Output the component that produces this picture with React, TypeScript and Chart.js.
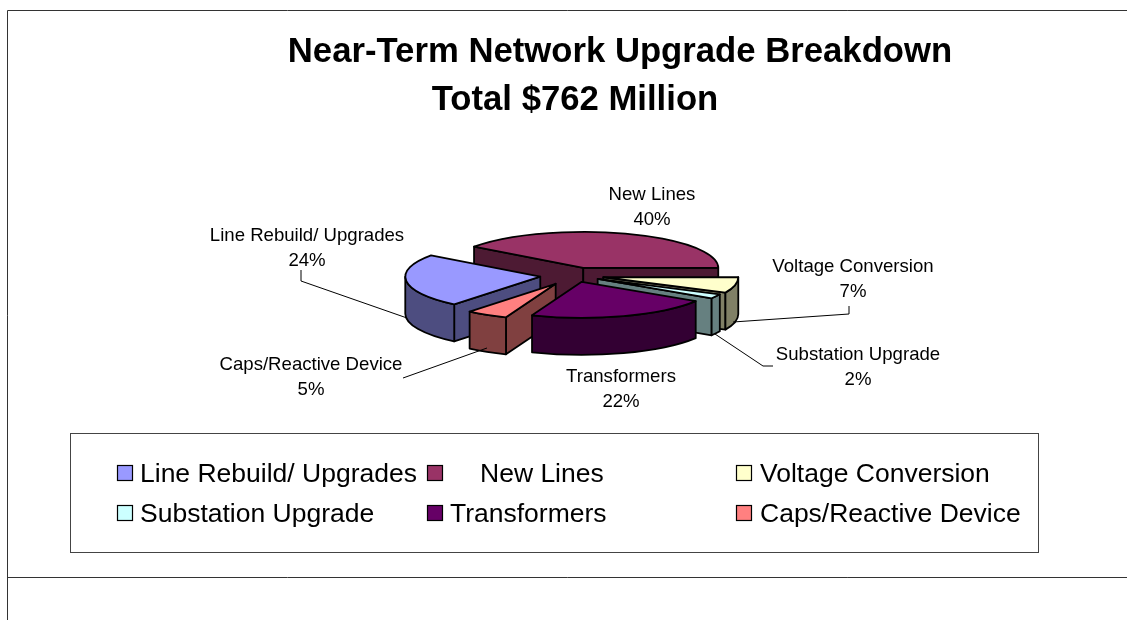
import React, { useEffect, useRef } from "react";
import { Chart, registerables } from "chart.js";

Chart.register(...registerables);

const titleLines = ["Near-Term Network Upgrade Breakdown", "Total $762 Million"];
const categories = ["Line Rebuild/ Upgrades", "New Lines", "Voltage Conversion", "Substation Upgrade", "Transformers", "Caps/Reactive Device"];
const shares = [24, 40, 7, 2, 22, 5];
const percentLabels = ["24%", "40%", "7%", "2%", "22%", "5%"];
const topColors = ["#9999FF", "#993366", "#FFFFCC", "#CCFFFF", "#660066", "#FF8080"];
const wallColors = ["#4D4D80", "#4D1A33", "#808066", "#668080", "#330033", "#804040"];
const explode = [34, 30, 30, 27, 25, 36];
const paintOrder = [1, 2, 3, 0, 5, 4];

const FONT = '"Liberation Sans", Arial, sans-serif';
const SQUASH = 0.267;
const DEPTH = 37;
const titleAnchors = [{ x: 620, y: 62 }, { x: 575, y: 110 }];
const labelAnchors = [{ x: 307, y: 241 }, { x: 652, y: 200 }, { x: 853, y: 272 }, { x: 858, y: 360 }, { x: 621, y: 382 }, { x: 311, y: 370 }];
const leaders = [
  [[301, 270], [301, 281], [407, 318]],
  [],
  [[849, 306], [849, 314], [733, 322]],
  [[773, 366], [763, 366], [715, 334]],
  [],
  [[403, 378], [487, 348]],
];
const legendSwatches = [{ x: 117, y: 465 }, { x: 427, y: 465 }, { x: 736, y: 465 }, { x: 117, y: 505 }, { x: 427, y: 505 }, { x: 736, y: 505 }];
const legendTextX = [140, 480, 760, 140, 450, 760];
const legendBaselines = [482, 482, 482, 522, 522, 522];

const piePlugin = {
  id: "tiltedPie",
  beforeDatasetsDraw(chart: any) {
    const ctx: CanvasRenderingContext2D = chart.ctx;
    const arcs = chart.getDatasetMeta(0).data;
    const cx = (chart.chartArea.left + chart.chartArea.right) / 2;
    const cy = (chart.chartArea.top + chart.chartArea.bottom) / 2;
    ctx.save();
    ctx.lineWidth = 1.8;
    ctx.lineJoin = "round";
    ctx.strokeStyle = "#000";

    for (const i of paintOrder) {
      const el = arcs[i];
      const a0 = el.startAngle;
      const a1 = el.endAngle;
      const r = el.outerRadius;
      const mid = (a0 + a1) / 2;
      const off = el.options.offset;
      const ax = cx + Math.cos(mid) * off;
      const ay = cy + Math.sin(mid) * off * SQUASH;
      const px = (a: number) => ax + Math.cos(a) * r;
      const py = (a: number) => ay + Math.sin(a) * r * SQUASH;
      const ellipse = (from: number, to: number, ccw: boolean, dy: number) => {
        ctx.ellipse(ax, ay + dy, r, r * SQUASH, 0, from, to, ccw);
      };
      const paint = (color: string) => {
        ctx.closePath();
        ctx.fillStyle = color;
        ctx.fill();
        ctx.stroke();
      };
      const quad = (a: number) => {
        ctx.beginPath();
        ctx.moveTo(ax, ay);
        ctx.lineTo(px(a), py(a));
        ctx.lineTo(px(a), py(a) + DEPTH);
        ctx.lineTo(ax, ay + DEPTH);
        paint(wallColors[i]);
      };
      if (px(a0) < ax) quad(a0);
      if (px(a1) > ax) quad(a1);
      for (let k = -1; k <= 1; k++) {
        const lo = Math.max(a0, k * 2 * Math.PI);
        const hi = Math.min(a1, k * 2 * Math.PI + Math.PI);
        if (hi > lo) {
          ctx.beginPath();
          ellipse(lo, hi, false, 0);
          ellipse(hi, lo, true, DEPTH);
          paint(wallColors[i]);
        }
      }
      ctx.beginPath();
      ctx.moveTo(ax, ay);
      ellipse(a0, a1, false, 0);
      paint(topColors[i]);
    }
    ctx.restore();
    return false;
  },
  afterDraw(chart: any) {
    const ctx: CanvasRenderingContext2D = chart.ctx;
    ctx.save();
    ctx.lineCap = "butt";

    ctx.strokeStyle = "#333";
    ctx.lineWidth = 1;
    ctx.beginPath();
    ctx.moveTo(7.5, 620);
    ctx.lineTo(7.5, 10.5);
    ctx.lineTo(1127, 10.5);
    ctx.moveTo(7.5, 577.5);
    ctx.lineTo(1127, 577.5);
    ctx.stroke();

    ctx.fillStyle = "#000";
    ctx.textAlign = "center";
    ctx.textBaseline = "alphabetic";
    ctx.font = `bold 34.7px ${FONT}`;
    titleLines.forEach((t, i) => ctx.fillText(t, titleAnchors[i].x, titleAnchors[i].y));

    ctx.font = `18.6px ${FONT}`;
    categories.forEach((c, i) => {
      ctx.fillText(c, labelAnchors[i].x, labelAnchors[i].y);
      ctx.fillText(percentLabels[i], labelAnchors[i].x, labelAnchors[i].y + 25);
    });

    ctx.strokeStyle = "#000";
    ctx.lineWidth = 1;
    leaders.forEach((pts) => {
      if (!pts.length) return;
      ctx.beginPath();
      pts.forEach(([x, y], j) => (j ? ctx.lineTo(x, y) : ctx.moveTo(x, y)));
      ctx.stroke();
    });

    ctx.strokeStyle = "#444";
    ctx.strokeRect(70.5, 433.5, 968, 119);
    ctx.textAlign = "left";
    ctx.font = `26.5px ${FONT}`;
    categories.forEach((c, i) => {
      const s = legendSwatches[i];
      ctx.fillStyle = topColors[i];
      ctx.fillRect(s.x, s.y, 15, 15);
      ctx.strokeStyle = "#000";
      ctx.lineWidth = 1.2;
      ctx.strokeRect(s.x + 0.5, s.y + 0.5, 15, 15);
      ctx.fillStyle = "#000";
      ctx.fillText(c, legendTextX[i], legendBaselines[i]);
    });
    ctx.restore();
  },
};

export default function App() {
  const ref = useRef<HTMLCanvasElement>(null);
  useEffect(() => {
    const chart = new Chart(ref.current!, {
      type: "pie",
      data: {
        labels: categories,
        datasets: [{ data: shares, backgroundColor: topColors, borderColor: "#000", borderWidth: 1, offset: explode }],
      },
      options: {
        responsive: false,
        animation: false,
        radius: 135,
        rotation: -140.4,
        layout: { padding: { left: 21, right: 0, top: 0, bottom: 69 } },
        plugins: { legend: { display: false }, title: { display: false }, tooltip: { enabled: false } },
      },
      plugins: [piePlugin],
    } as any);
    return () => chart.destroy();
  }, []);
  return (
    <canvas
      ref={ref}
      width={1127}
      height={620}
      style={{ position: "absolute", left: 0, top: 0, width: 1127, height: 620, background: "#fff" }}
    />
  );
}
